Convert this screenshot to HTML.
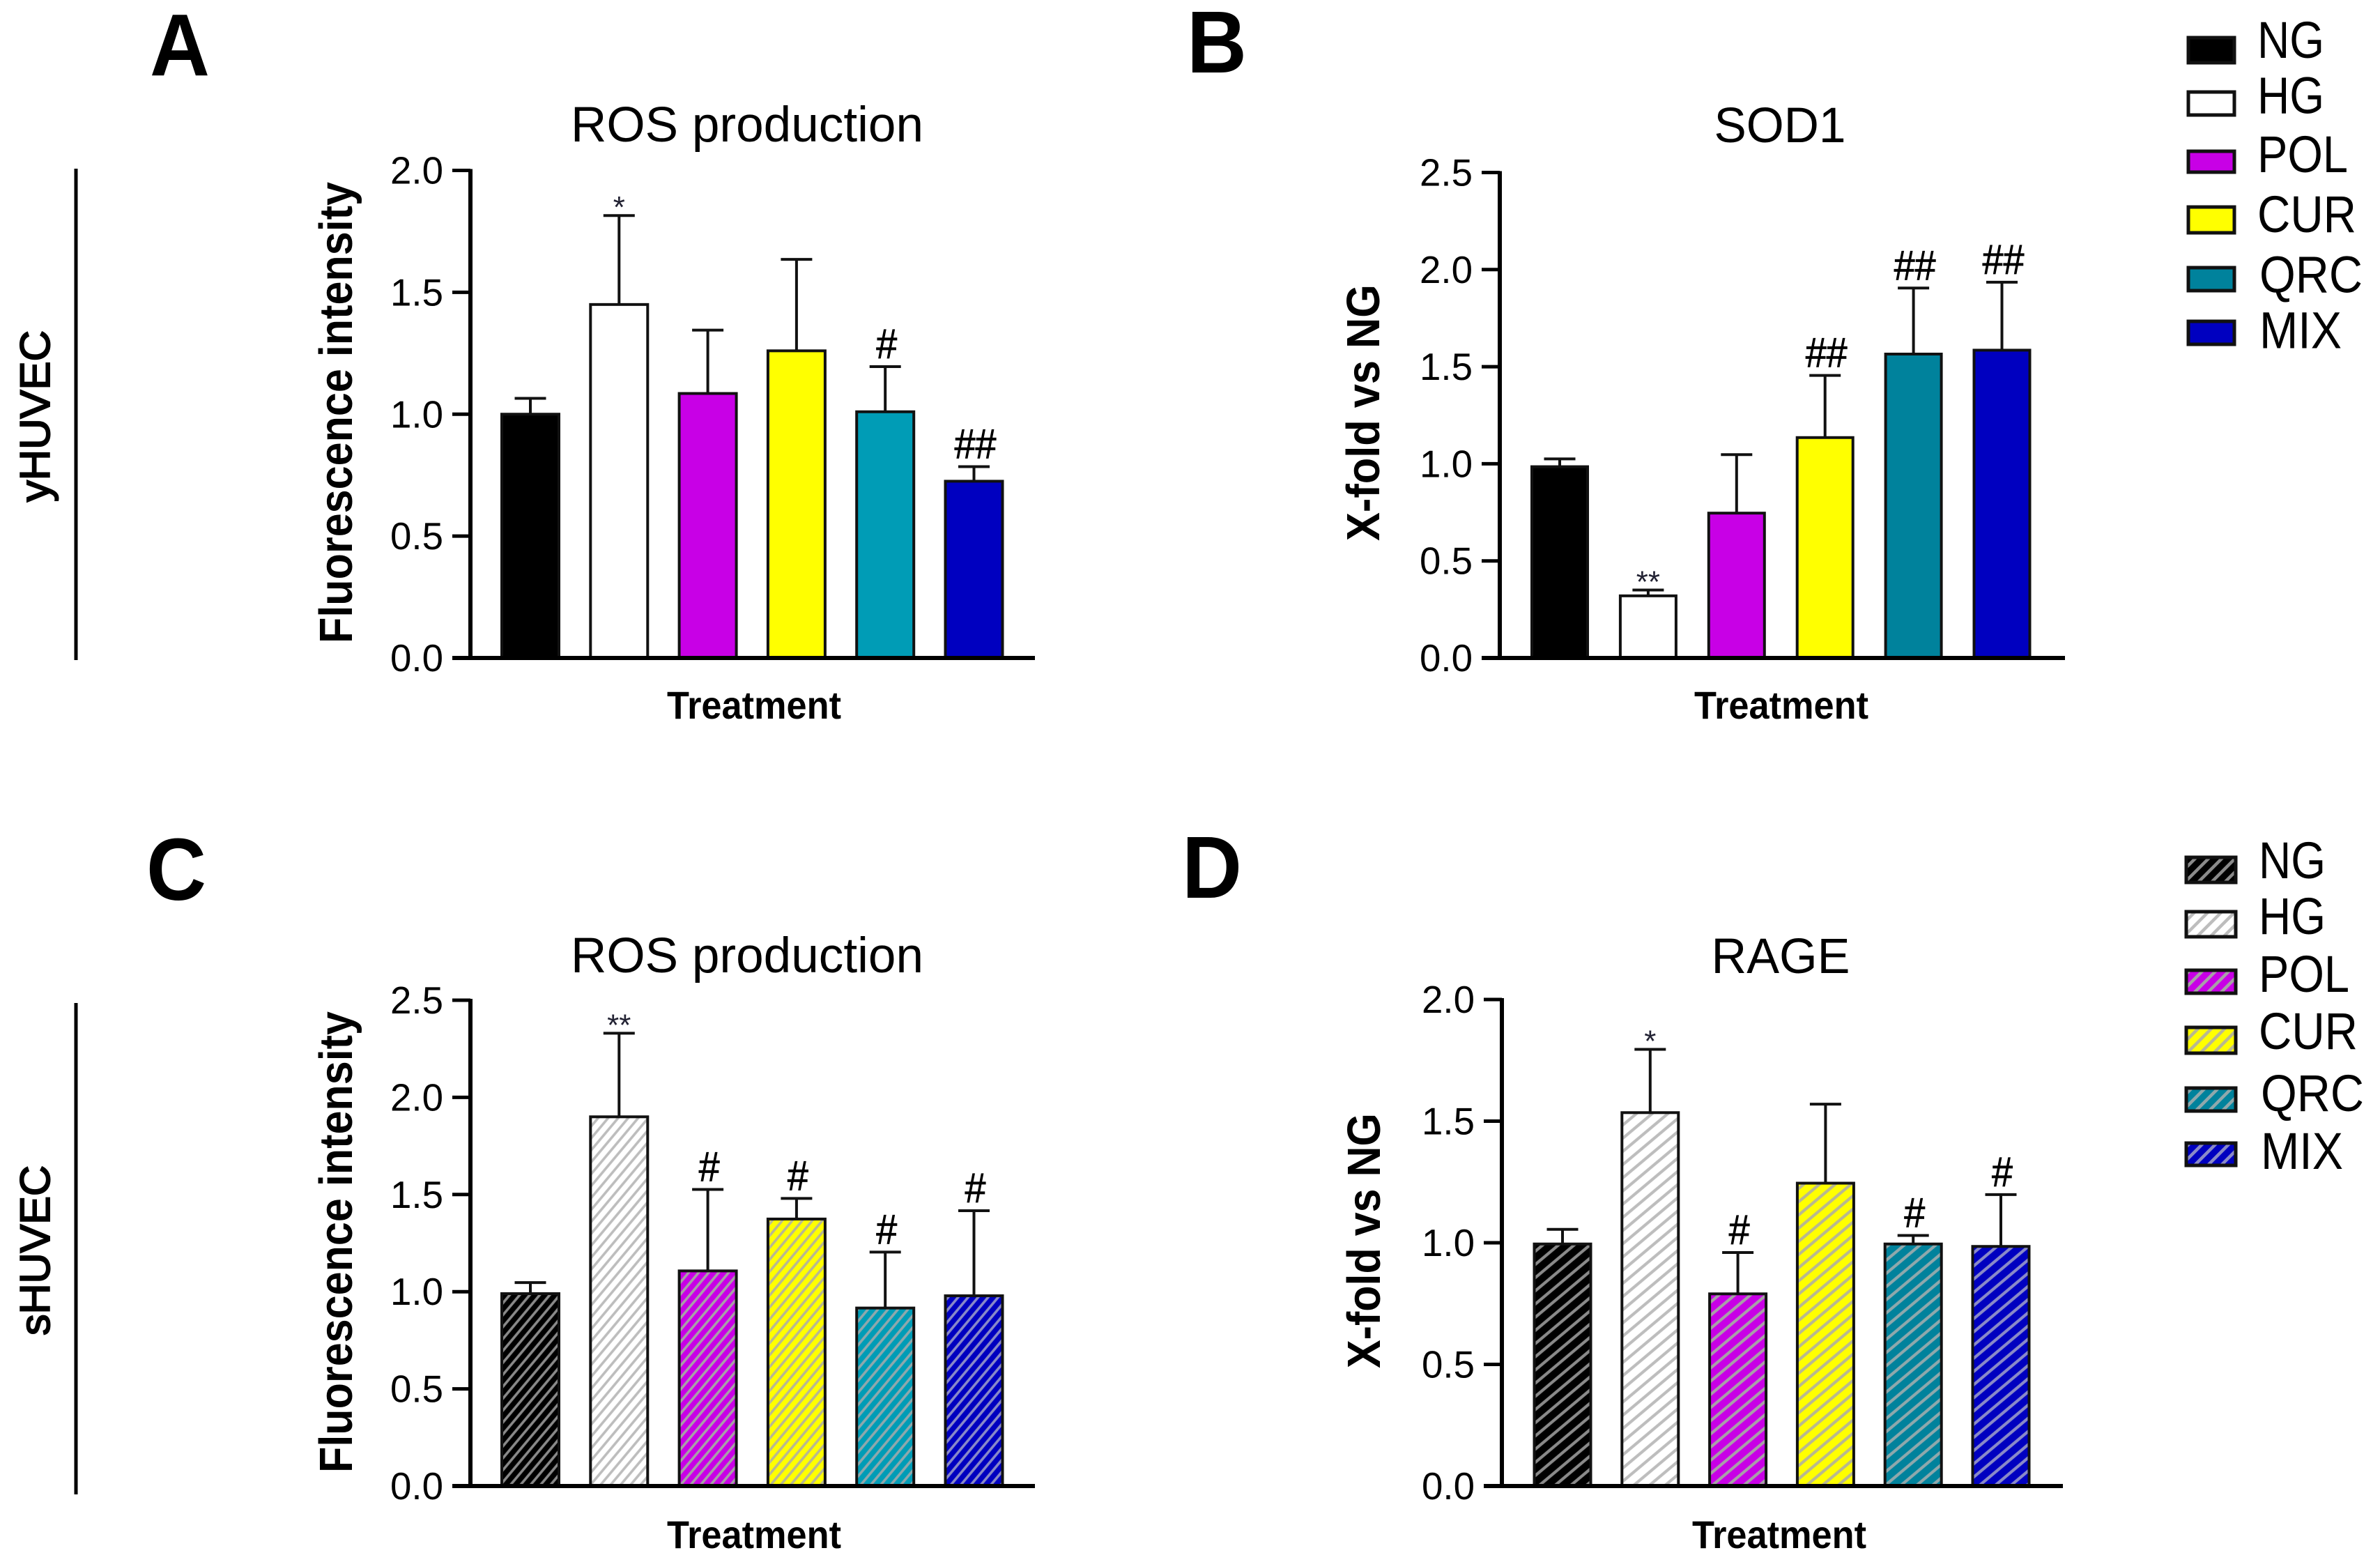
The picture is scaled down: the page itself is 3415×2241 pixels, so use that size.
<!DOCTYPE html>
<html lang="en">
<head>
<meta charset="utf-8">
<title>ROS production, SOD1 and RAGE in yHUVEC and sHUVEC</title>
<style>
html,body{margin:0;padding:0;background:#fff;}
svg{display:block;font-family:"Liberation Sans",Arial,sans-serif;fill:#000;}
.ttl{font-size:71px;text-anchor:middle;}
.ax{font-size:67px;font-weight:bold;text-anchor:middle;}
.xl{font-size:56px;font-weight:bold;text-anchor:middle;}
.ltr{font-size:126px;font-weight:bold;}
.leg{font-size:74px;}
.cell{font-size:60px;text-anchor:middle;stroke:#000;stroke-width:2px;}
.tick{font-size:55px;text-anchor:end;}
.ann-h{font-size:60px;text-anchor:middle;stroke:#000;stroke-width:0.8px;}
.ann-s{font-size:44px;text-anchor:middle;fill:#223;}
</style>
</head>
<body>
<svg id="fig" xmlns="http://www.w3.org/2000/svg" width="3415" height="2241" viewBox="0 0 3415 2241">
<defs id="defs"></defs>
<rect x="0" y="0" width="3415" height="2241" fill="#fff"></rect>

<text class="ltr" x="215" y="108" textLength="86" lengthAdjust="spacingAndGlyphs">A</text>
<text class="ltr" x="1703" y="104" textLength="86" lengthAdjust="spacingAndGlyphs">B</text>
<text class="ltr" x="210" y="1291" textLength="86" lengthAdjust="spacingAndGlyphs">C</text>
<text class="ltr" x="1696" y="1288" textLength="86" lengthAdjust="spacingAndGlyphs">D</text>

<line x1="109" y1="242" x2="109" y2="947" stroke="#000" stroke-width="5"></line>
<line x1="109" y1="1439" x2="109" y2="2144" stroke="#000" stroke-width="5"></line>
<text class="cell" transform="translate(71,597) rotate(-90)" textLength="246" lengthAdjust="spacingAndGlyphs">yHUVEC</text>
<text class="cell" transform="translate(71,1794) rotate(-90)" textLength="244" lengthAdjust="spacingAndGlyphs">sHUVEC</text>

<text class="ttl" x="1072" y="203" textLength="506" lengthAdjust="spacingAndGlyphs">ROS production</text>
<text class="ttl" x="2554" y="204" textLength="189" lengthAdjust="spacingAndGlyphs">SOD1</text>
<text class="ttl" x="1072" y="1395" textLength="506" lengthAdjust="spacingAndGlyphs">ROS production</text>
<text class="ttl" x="2555" y="1396" textLength="199" lengthAdjust="spacingAndGlyphs">RAGE</text>

<text class="ax" transform="translate(505,592) rotate(-90)" textLength="662" lengthAdjust="spacingAndGlyphs">Fluorescence intensity</text>
<text class="ax" transform="translate(1979,592) rotate(-90)" textLength="368" lengthAdjust="spacingAndGlyphs">X-fold vs NG</text>
<text class="ax" transform="translate(505,1782) rotate(-90)" textLength="662" lengthAdjust="spacingAndGlyphs">Fluorescence intensity</text>
<text class="ax" transform="translate(1980,1780) rotate(-90)" textLength="366" lengthAdjust="spacingAndGlyphs">X-fold vs NG</text>

<text class="xl" x="1082" y="1031" textLength="250" lengthAdjust="spacingAndGlyphs">Treatment</text>
<text class="xl" x="2556" y="1031" textLength="250" lengthAdjust="spacingAndGlyphs">Treatment</text>
<text class="xl" x="1082" y="2221" textLength="250" lengthAdjust="spacingAndGlyphs">Treatment</text>
<text class="xl" x="2553" y="2221" textLength="250" lengthAdjust="spacingAndGlyphs">Treatment</text>

<g id="plots"></g>
<g id="legends"></g>
</svg>
<script>
// ---------- chart data ----------
var categories = ["NG", "HG", "POL", "CUR", "QRC", "MIX"];

var panelATicks = ["0.0", "0.5", "1.0", "1.5", "2.0"];
var panelAValues = [1.0, 1.45, 1.085, 1.26, 1.01, 0.725];
var panelAErrorTops = [1.065, 1.815, 1.345, 1.635, 1.195, 0.785];
var panelAMarks = ["", "*", "", "", "#", "##"];

var panelBTicks = ["0.0", "0.5", "1.0", "1.5", "2.0", "2.5"];
var panelBValues = [0.985, 0.32, 0.746, 1.135, 1.565, 1.585];
var panelBErrorTops = [1.025, 0.35, 1.047, 1.455, 1.905, 1.935];
var panelBMarks = ["", "**", "", "##", "##", "##"];

var panelCTicks = ["0.0", "0.5", "1.0", "1.5", "2.0", "2.5"];
var panelCValues = [0.99, 1.90, 1.107, 1.374, 0.916, 0.979];
var panelCErrorTops = [1.047, 2.33, 1.526, 1.48, 1.204, 1.417];
var panelCMarks = ["", "**", "#", "#", "#", "#"];

var panelDTicks = ["0.0", "0.5", "1.0", "1.5", "2.0"];
var panelDValues = [0.995, 1.535, 0.79, 1.245, 0.995, 0.985];
var panelDErrorTops = [1.055, 1.795, 0.96, 1.57, 1.03, 1.198];
var panelDMarks = ["", "*", "#", "", "#", "#"];

// ---------- styling and layout ----------
var NS = "http://www.w3.org/2000/svg";
function make(tag, attrs) {
  var el = document.createElementNS(NS, tag);
  for (var k in attrs) { el.setAttribute(k, attrs[k]); }
  return el;
}

var paletteA = ["#000000", "#ffffff", "#c800e6", "#ffff00", "#009cb6", "#0000c0"];
var paletteB = ["#000000", "#ffffff", "#c800e6", "#ffff00", "#00829c", "#0000c0"];
var hatchColors = ["#8a8a8a", "#bdbdbd", "#a8a0a8", "#b8b890", "#8fa8ac", "#8a8ac8"];

function addHatch(id, bg, color, angle, period, width) {
  var defs = document.getElementById("defs");
  var p = make("pattern", {id: id, patternUnits: "userSpaceOnUse", width: 40, height: period,
    patternTransform: "rotate(" + (-angle) + ")"});
  p.appendChild(make("rect", {x: 0, y: 0, width: 40, height: period, fill: bg}));
  p.appendChild(make("rect", {x: 0, y: (period - width) / 2, width: 40, height: width, fill: color}));
  defs.appendChild(p);
}
paletteA.forEach(function (c, i) {
  addHatch("hatch-c-" + i, c, hatchColors[i], 50, 11, 3.6);
});
paletteB.forEach(function (c, i) {
  addHatch("hatch-d-" + i, c, hatchColors[i], 40, 14.5, 4.2);
  addHatch("hatch-l-" + i, c, hatchColors[i], 45, 13.5, 4.5);
});

var panels = [
  {key: "a", ticks: panelATicks, values: panelAValues, errs: panelAErrorTops, marks: panelAMarks,
   max: 2.0, axisX: 675, top: 244.5, base: 944, endX: 1485, first: 761, step: 127.3, barW: 82,
   fill: function (i) { return paletteA[i]; }},
  {key: "b", ticks: panelBTicks, values: panelBValues, errs: panelBErrorTops, marks: panelBMarks,
   max: 2.5, axisX: 2152, top: 247.5, base: 944, endX: 2963, first: 2238, step: 126.9, barW: 80,
   fill: function (i) { return paletteB[i]; }},
  {key: "c", ticks: panelCTicks, values: panelCValues, errs: panelCErrorTops, marks: panelCMarks,
   max: 2.5, axisX: 675, top: 1435, base: 2132, endX: 1485, first: 761, step: 127.3, barW: 82,
   fill: function (i) { return "url(#hatch-c-" + i + ")"; }},
  {key: "d", ticks: panelDTicks, values: panelDValues, errs: panelDErrorTops, marks: panelDMarks,
   max: 2.0, axisX: 2155, top: 1434, base: 2132, endX: 2960, first: 2242, step: 125.8, barW: 81,
   fill: function (i) { return "url(#hatch-d-" + i + ")"; }}
];

var plots = document.getElementById("plots");

panels.forEach(function (P) {
  function yScale(v) { return P.base - (v / P.max) * (P.base - P.top); }
  function xScale(i) { return P.first + i * P.step; }

  var g = make("g", {});
  
  
  plots.appendChild(g);

  // bars + error bars first, so the axis sits on top
  categories.forEach(function (cat, i) {
    var cx = xScale(i), yTop = yScale(P.values[i]), yErr = yScale(P.errs[i]);

    var stem = make("line", {x1: cx, x2: cx, y1: yErr, y2: yTop, stroke: "#111", "stroke-width": 4});
    
    
    g.appendChild(stem);

    var cap = make("line", {x1: cx - 22.5, x2: cx + 22.5, y1: yErr, y2: yErr, stroke: "#111", "stroke-width": 4});
    
    
    g.appendChild(cap);

    var bar = make("rect", {x: cx - P.barW / 2, y: yTop, width: P.barW, height: P.base - yTop,
      fill: P.fill(i), stroke: "#111", "stroke-width": 4});
    
    
    g.appendChild(bar);

    var mark = P.marks[i];
    if (mark) {
      var isHash = mark.charAt(0) === "#";
      var t = make("text", {"class": isHash ? "ann-h" : "ann-s", x: cx + (isHash ? 2 : 0), y: isHash ? yErr - 12 : yErr + 3});
      if (isHash) { t.setAttribute("textLength", mark.length * 30); t.setAttribute("lengthAdjust", "spacingAndGlyphs"); }
      
      
      t.textContent = mark;
      g.appendChild(t);
    }
  });

  var yAxis = make("line", {x1: P.axisX, x2: P.axisX, y1: P.top - 2, y2: P.base, stroke: "#000", "stroke-width": 6});
  
  
  g.appendChild(yAxis);

  var xAxis = make("line", {x1: P.axisX - 26, x2: P.endX, y1: P.base, y2: P.base, stroke: "#000", "stroke-width": 6});
  
  
  g.appendChild(xAxis);

  P.ticks.forEach(function (label) {
    var y = yScale(parseFloat(label));
    var tl = make("line", {x1: P.axisX - 26, x2: P.axisX, y1: y, y2: y, stroke: "#000", "stroke-width": 5});
    
    
    g.appendChild(tl);

    var tx = make("text", {"class": "tick", x: P.axisX - 39, y: y + 19, textLength: 76, lengthAdjust: "spacingAndGlyphs"});
    
    
    tx.textContent = label;
    g.appendChild(tx);
  });
});

// ---------- legends ----------
var legendTop = {x: 3140, w: 66, textX: [3239, 3239, 3239, 3239, 3242, 3242], textW: [96, 96, 130, 142, 148, 118],
  y0: [54, 132, 217, 297, 384, 461], y1: [90, 165, 247, 334, 417, 494], base: [83, 162.5, 247, 333, 419.5, 499.5]};
var legendBottom = {x: 3137, w: 71, textX: [3241, 3241, 3241, 3241, 3244, 3244], textW: [96, 96, 130, 142, 148, 118],
  y0: [1230, 1308, 1392, 1474, 1561, 1640], y1: [1266, 1344, 1425, 1511, 1594, 1672], base: [1260, 1340, 1423, 1505, 1594, 1677]};

function drawLegend(L, key, fillFor) {
  var lg = make("g", {});
  
  
  document.getElementById("legends").appendChild(lg);
  categories.forEach(function (cat, i) {
    var sw = make("rect", {x: L.x, y: L.y0[i], width: L.w, height: L.y1[i] - L.y0[i], fill: fillFor(i), stroke: "#111", "stroke-width": 5});
    
    
    lg.appendChild(sw);
    var tx = make("text", {"class": "leg", x: L.textX[i], y: L.base[i], textLength: L.textW[i], lengthAdjust: "spacingAndGlyphs"});
    
    
    tx.textContent = cat;
    lg.appendChild(tx);
  });
}
drawLegend(legendTop, "top", function (i) { return paletteB[i]; });
drawLegend(legendBottom, "bottom", function (i) { return "url(#hatch-l-" + i + ")"; });
</script>
</body>
</html>
